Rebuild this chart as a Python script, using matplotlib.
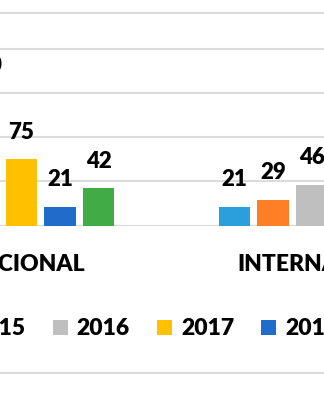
import numpy as np
import matplotlib.pyplot as plt
from matplotlib.lines import Line2D

# categories and yearly series (only part of the chart is visible)
categories = ["EDUCACIONAL", "INTERNACIONAL"]
years = ["2014", "2015", "2016", "2017", "2018", "2019"]
colors = ["#2A9FDC", "#FF7F27", "#BFBFBF", "#FFC000", "#1F6CCB", "#41AC45"]
values_2014 = [60, 21]
values_2015 = [95, 29]
values_2016 = [150, 46]
values_2017 = [75, 38]
values_2018 = [21, 12]
values_2019 = [42, 25]
series = [values_2014, values_2015, values_2016, values_2017, values_2018, values_2019]

plt.rcParams['font.family'] = ['Lato', 'DejaVu Sans']

fig = plt.figure(figsize=(3.24, 4.0), dpi=100)
# the axes is wider than the figure: the picture is a crop of a wider chart
ax = fig.add_axes([-0.5, 0.436, 2.0278, 0.531])

x = np.arange(len(categories))
step = 0.1172
width = 0.0944
for i, (yr, vals) in enumerate(zip(years, series)):
    bars = ax.bar(x + (i - 2.5) * step, vals, width, color=colors[i], label=yr, zorder=3)
    ax.bar_label(bars, padding=12, fontsize=16, fontweight='heavy', color='black')

ax.set_xlim(-0.5, 1.5)
ax.set_ylim(0, 240)
ax.set_yticks(np.arange(0, 201, 50))
ax.yaxis.grid(True, color='#dcdcdc', linewidth=1.5, zorder=0)
ax.set_xticks(x)
ax.set_xticklabels(categories, fontsize=16.5, fontweight='heavy')
ax.tick_params(axis='x', length=0, pad=20.5)
ax.tick_params(axis='y', length=0, labelleft=False)
for s in ['left', 'right', 'bottom']:
    ax.spines[s].set_visible(False)
ax.spines['top'].set_color('#dcdcdc')
ax.spines['top'].set_linewidth(1.5)

fig.legend(loc='center', bbox_to_anchor=(0.443, 0.178), ncol=6, frameon=False,
           handlelength=0.66, handleheight=0.66, handletextpad=0.39,
           columnspacing=1.18, prop={'weight': 'heavy', 'size': 16.5})

# chart border at the bottom
fig.add_artist(Line2D([0, 1], [0.0675, 0.0675], color='#dcdcdc', linewidth=1.5))

fig.savefig("out.png", dpi=100)
